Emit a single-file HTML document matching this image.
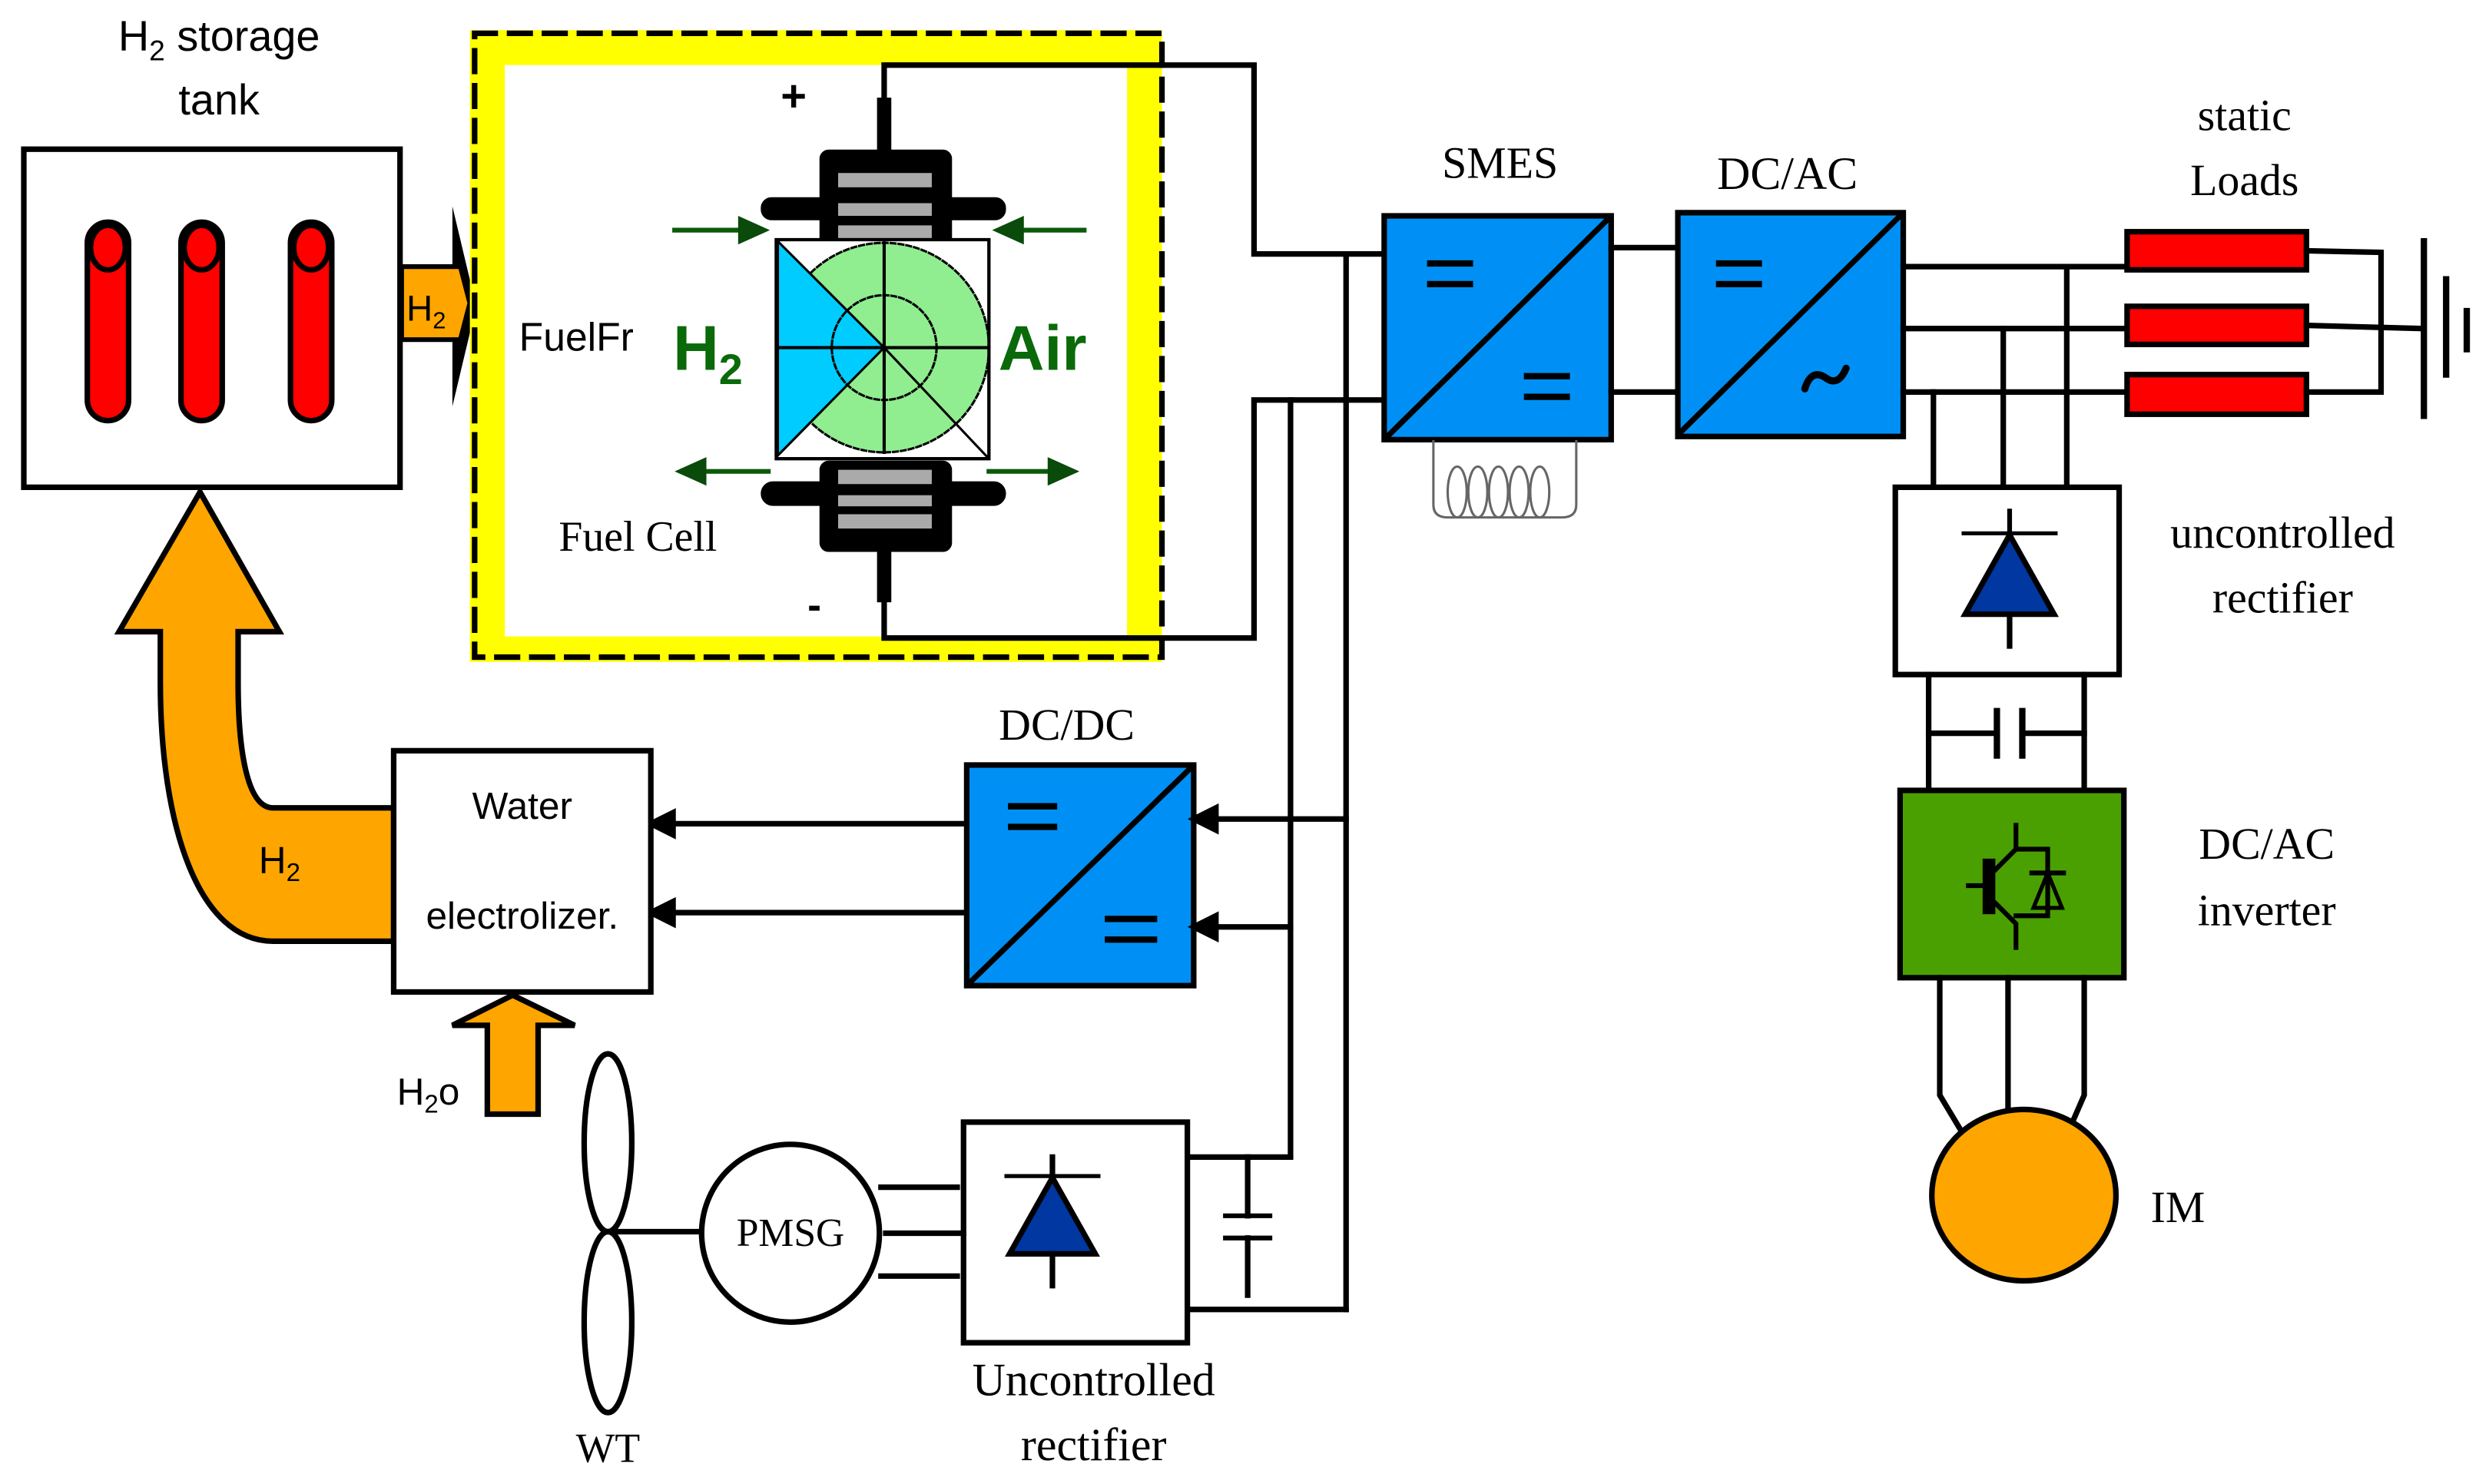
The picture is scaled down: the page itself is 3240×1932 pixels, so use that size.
<!DOCTYPE html>
<html><head><meta charset="utf-8"><style>
html,body{margin:0;padding:0;background:#fff;}
svg{display:block;}
.sans{font-family:"Liberation Sans",sans-serif;}
.serif{font-family:"Liberation Serif",serif;}
</style></head><body>
<svg width="3240" height="1932" viewBox="0 0 1568 935" xmlns="http://www.w3.org/2000/svg">
<rect width="1568" height="935" fill="#fff"/>
<g stroke="#000" stroke-width="3.5" fill="none" stroke-linecap="square">

<!-- Tank -->
<rect x="15" y="94" width="237" height="213" fill="#fff"/>
<g fill="#f00">
<rect x="55" y="140" width="26" height="125" rx="13"/>
<rect x="114" y="140" width="26" height="125" rx="13"/>
<rect x="183" y="140" width="26" height="125" rx="13"/>
<ellipse cx="68" cy="156" rx="11" ry="14"/>
<ellipse cx="127" cy="156" rx="11" ry="14"/>
<ellipse cx="196" cy="156" rx="11" ry="14"/>
</g>
<!-- H2 small arrow -->
<polygon points="285,130 300,193 285,256" fill="#000" stroke="none"/>
<polygon points="253,168 290,168 296,191 290,214 253,214" fill="#ffa500" stroke-width="3"/>

<!-- Yellow fuel cell box -->
<path d="M307,30 H721 V406 H307 Z" stroke="#ff0" stroke-width="22"/>
<rect x="299" y="21" width="433" height="393" stroke-dasharray="13,9"/>
<rect x="318" y="41" width="392" height="360" fill="#fff" stroke="none"/>

<!-- wires from fuel cell -->
<polyline points="557,68 557,41 790,41 790,160 872,160"/>
<polyline points="557,370 557,402 790,402 790,252 872,252"/>
<!-- terminals -->
<line x1="557" y1="66" x2="557" y2="96" stroke-width="9"/>
<line x1="557" y1="345" x2="557" y2="375" stroke-width="9"/>
<rect x="518" y="96" width="80" height="58" rx="4" fill="#000"/>
<rect x="481" y="126" width="151" height="11" rx="5" fill="#000"/>
<rect x="518" y="292" width="80" height="54" rx="4" fill="#000"/>
<rect x="481" y="305" width="151" height="12" rx="6" fill="#000"/>
<g fill="#aaa" stroke="none">
<rect x="528" y="109" width="59" height="9"/><rect x="528" y="128" width="59" height="8"/><rect x="528" y="142" width="59" height="8"/>
<rect x="528" y="296" width="59" height="9"/><rect x="528" y="312" width="59" height="7"/><rect x="528" y="324" width="59" height="9"/>
</g>
<!-- cell square -->
<rect x="489" y="151" width="134" height="138" fill="#fff" stroke-width="2"/>
<circle cx="557" cy="219" r="66" fill="#90ee90" stroke-width="1.5" stroke-dasharray="3,2"/>
<path d="M490,152 L557,219 L490,287 Z" fill="#00ccff" stroke="none"/>
<path d="M490,152 L557,219 L490,287 Z" fill="none" stroke-width="1.5"/>
<circle cx="557" cy="219" r="33" stroke-width="1.5" stroke-dasharray="3,2"/>
<line x1="557" y1="153" x2="557" y2="285" stroke-width="2"/>
<line x1="491" y1="219" x2="623" y2="219" stroke-width="2"/>
<line x1="557" y1="219" x2="622" y2="288" stroke-width="1.5"/>
<rect x="489" y="151" width="134" height="138" stroke-width="2"/>
<!-- green arrows -->
<g stroke="#0a5a0a" stroke-width="3" fill="#0a4a0a">
<line x1="425" y1="145" x2="470" y2="145"/><polygon points="465,136 485,145 465,154" stroke="none"/>
<line x1="683" y1="145" x2="640" y2="145"/><polygon points="645,136 625,145 645,154" stroke="none"/>
<line x1="484" y1="297" x2="440" y2="297"/><polygon points="445,288 425,297 445,306" stroke="none"/>
<line x1="623" y1="297" x2="665" y2="297"/><polygon points="660,288 680,297 660,306" stroke="none"/>
</g>

<!-- SMES -->
<rect x="872" y="136" width="143" height="141" fill="#0090f5"/>
<line x1="874" y1="275" x2="1013" y2="138"/>
<path d="M901,166 H926 M901,179 H926 M962,237 H987 M962,250 H987" stroke-width="4"/>
<g stroke="#666" stroke-width="1.5">
<path d="M903,278 V318 Q903,326 912,326 H984 Q993,326 993,318 V278"/>
<ellipse cx="918" cy="310" rx="6" ry="16"/><ellipse cx="931" cy="310" rx="6" ry="16"/><ellipse cx="944" cy="310" rx="6" ry="16"/><ellipse cx="957" cy="310" rx="6" ry="16"/><ellipse cx="970" cy="310" rx="6" ry="16"/>
</g>
<line x1="1015" y1="156" x2="1056" y2="156"/>
<line x1="1015" y1="247" x2="1056" y2="247"/>
<!-- DC/AC -->
<rect x="1057" y="134" width="142" height="141" fill="#0090f5"/>
<line x1="1058" y1="273" x2="1197" y2="136"/>
<path d="M1083,166 H1108 M1083,179 H1108" stroke-width="4"/>
<path d="M1137,245 Q1141,232 1150,238 Q1158,244 1163,232" stroke-width="4.5" stroke-linecap="round"/>

<!-- AC bus -->
<line x1="1199" y1="168" x2="1340" y2="168"/>
<line x1="1199" y1="207" x2="1340" y2="207"/>
<line x1="1199" y1="247" x2="1340" y2="247"/>
<g fill="#f00">
<rect x="1340" y="146" width="113" height="24"/>
<rect x="1340" y="193" width="113" height="24"/>
<rect x="1340" y="236" width="113" height="25"/>
</g>
<polyline points="1453,158 1500,159 1500,247 1453,247"/>
<line x1="1453" y1="205" x2="1527" y2="207"/>
<line x1="1527" y1="152" x2="1527" y2="262" stroke-width="4"/>
<line x1="1541" y1="176" x2="1541" y2="236" stroke-width="4"/>
<line x1="1554" y1="196" x2="1554" y2="220" stroke-width="4"/>
<line x1="1218" y1="247" x2="1218" y2="307"/>
<line x1="1262" y1="207" x2="1262" y2="307"/>
<line x1="1302" y1="168" x2="1302" y2="307"/>
<!-- uncontrolled rectifier right -->
<rect x="1194" y="307" width="141" height="118" fill="#fff"/>
<line x1="1237" y1="336" x2="1295" y2="336" stroke-width="2.5"/>
<line x1="1266" y1="322" x2="1266" y2="336" stroke-width="3"/>
<polygon points="1266,337 1238,387 1294,387" fill="#0037a0"/>
<line x1="1266" y1="387" x2="1266" y2="407"/>
<line x1="1215" y1="425" x2="1215" y2="498"/>
<line x1="1313" y1="425" x2="1313" y2="498"/>
<path d="M1215,462 H1258 M1274,462 H1313"/>
<line x1="1258" y1="448" x2="1258" y2="476" stroke-width="4"/>
<line x1="1274" y1="448" x2="1274" y2="476" stroke-width="4"/>
<!-- green inverter -->
<rect x="1197" y="498" width="141" height="118" fill="#4aa000"/>
<g stroke-width="3">
<line x1="1240" y1="558" x2="1250" y2="558"/>
<rect x="1250" y="542" width="6" height="33" fill="#000" stroke-width="2"/>
<path d="M1257,548 L1270,535 V520 M1270,535 H1290 V577 H1270 M1257,569 L1270,582 V597"/>
<polygon points="1290,550 1281,572 1299,572" fill="none" stroke-width="2.5"/>
<line x1="1280" y1="550" x2="1300" y2="550"/>
</g>
<!-- to motor -->
<polyline points="1222,616 1222,690 1240,720"/>
<line x1="1265" y1="616" x2="1265" y2="700"/>
<polyline points="1313,616 1313,690 1303,713"/>
<ellipse cx="1275" cy="753" rx="58" ry="54" fill="#ffa500"/>

<!-- DC buses -->
<line x1="848" y1="160" x2="848" y2="825"/>
<line x1="813" y1="252" x2="813" y2="728"/>
<!-- DC/DC -->
<rect x="609" y="482" width="143" height="139" fill="#0090f5"/>
<line x1="610" y1="620" x2="751" y2="483"/>
<path d="M637,508 H664 M637,521 H664 M698,579 H727 M698,592 H727" stroke-width="4"/>
<line x1="848" y1="516" x2="765" y2="516"/>
<polygon points="752,516 766,509 766,523" fill="#000"/>
<line x1="813" y1="584" x2="765" y2="584"/>
<polygon points="752,584 766,577 766,591" fill="#000"/>
<line x1="609" y1="519" x2="422" y2="519"/>
<polygon points="410,519 424,512 424,526" fill="#000"/>
<line x1="609" y1="575" x2="422" y2="575"/>
<polygon points="410,575 424,568 424,582" fill="#000"/>

<!-- big H2 arrow -->
<path d="M126,310 L75,398 L101,398 L101,430 C101,520 125,593 172,593 L248,593 L248,509 L172,509 C155,509 150,470 150,430 L150,398 L176,398 Z" fill="#ffa500"/>
<rect x="248" y="473" width="162" height="152" fill="#fff"/>
<!-- H2O arrow -->
<polygon points="323,627 285,646 307,646 307,702 339,702 339,646 362,646" fill="#ffa500"/>

<!-- bottom rectifier -->
<rect x="607" y="707" width="141" height="139" fill="#fff"/>
<line x1="634" y1="741" x2="692" y2="741" stroke-width="2.5"/>
<line x1="663" y1="729" x2="663" y2="741"/>
<polygon points="663,742 636,790 690,790" fill="#0037a0"/>
<line x1="663" y1="790" x2="663" y2="810"/>
<line x1="748" y1="729" x2="813" y2="729"/>
<line x1="748" y1="825" x2="848" y2="825"/>
<line x1="786" y1="729" x2="786" y2="766"/>
<line x1="786" y1="780" x2="786" y2="816"/>
<line x1="772" y1="766" x2="800" y2="766" stroke-width="3"/>
<line x1="772" y1="780" x2="800" y2="780" stroke-width="3"/>
<!-- PMSG / WT -->
<line x1="555" y1="748" x2="603" y2="748"/>
<line x1="558" y1="777" x2="607" y2="777"/>
<line x1="555" y1="804" x2="603" y2="804"/>
<circle cx="498" cy="777" r="56" fill="#fff"/>
<line x1="383" y1="776" x2="441" y2="776"/>
<ellipse cx="383" cy="720" rx="15" ry="56"/>
<ellipse cx="383" cy="833" rx="15" ry="57"/>
</g>

<!-- Text -->
<g fill="#000">
<text x="138" y="32" class="sans" font-size="27" text-anchor="middle">H<tspan font-size="18" dy="6">2</tspan><tspan dy="-6"> storage</tspan></text>
<text x="138" y="72" class="sans" font-size="27" text-anchor="middle">tank</text>
<text x="256" y="202" class="sans" font-size="23">H<tspan font-size="15" dy="5">2</tspan></text>
<text x="500" y="70" class="sans" font-size="28" font-weight="bold" text-anchor="middle">+</text>
<text x="513" y="390" class="sans" font-size="26" font-weight="bold" text-anchor="middle">-</text>
<text x="327" y="221" class="sans" font-size="25">FuelFr</text>
<text x="352" y="347" class="serif" font-size="27">Fuel Cell</text>
<text x="945" y="112" class="serif" font-size="28" text-anchor="middle">SMES</text>
<text x="1126" y="119" class="serif" font-size="29" text-anchor="middle">DC/AC</text>
<text x="1414" y="82" class="serif" font-size="28" text-anchor="middle">static</text>
<text x="1414" y="123" class="serif" font-size="28" text-anchor="middle">Loads</text>
<text x="1438" y="345" class="serif" font-size="28" text-anchor="middle">uncontrolled</text>
<text x="1438" y="386" class="serif" font-size="28" text-anchor="middle">rectifier</text>
<text x="1428" y="541" class="serif" font-size="28" text-anchor="middle">DC/AC</text>
<text x="1428" y="583" class="serif" font-size="28" text-anchor="middle">inverter</text>
<text x="1372" y="770" class="serif" font-size="28" text-anchor="middle">IM</text>
<text x="672" y="466" class="serif" font-size="28" text-anchor="middle">DC/DC</text>
<text x="329" y="516" class="sans" font-size="24" text-anchor="middle">Water</text>
<text x="329" y="585" class="sans" font-size="24" text-anchor="middle">electrolizer.</text>
<text x="163" y="550" class="sans" font-size="24">H<tspan font-size="16" dy="5">2</tspan></text>
<text x="250" y="696" class="sans" font-size="24">H<tspan font-size="16" dy="5">2</tspan><tspan dy="-5">o</tspan></text>
<text x="498" y="785" class="serif" font-size="25" text-anchor="middle">PMSG</text>
<text x="383" y="921" class="serif" font-size="26" text-anchor="middle">WT</text>
<text x="689" y="879" class="serif" font-size="29" text-anchor="middle">Uncontrolled</text>
<text x="689" y="920" class="serif" font-size="29" text-anchor="middle">rectifier</text>
</g>
<g fill="#0a6a0a" class="sans" font-weight="bold">
<text x="424" y="233" font-size="40">H<tspan font-size="27" dy="9">2</tspan></text>
<text x="629" y="233" font-size="40">Air</text>
</g>
</svg>
</body></html>
